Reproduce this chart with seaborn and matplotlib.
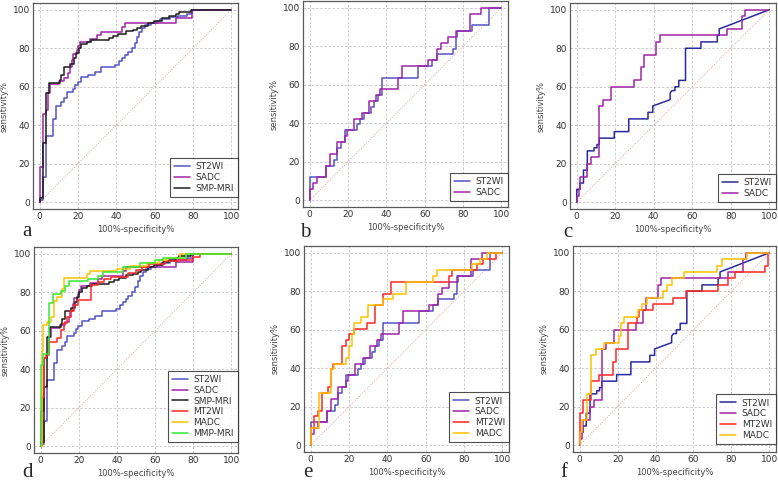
import matplotlib
matplotlib.use('Agg')
import matplotlib.pyplot as plt
from matplotlib.ticker import AutoMinorLocator
import seaborn as sns

# ROC points (100%-specificity%, sensitivity%)
ST2WI_1 = [(0, 0), (0, 1), (1.7, 1), (1.7, 13), (3.5, 13), (3.5, 34.5), (7, 34.5), (7, 43), (8.7, 43), (8.7, 50),
           (11.3, 50), (11.3, 52), (12.7, 52), (12.7, 54), (14, 54), (14, 57.5), (17.4, 57.5), (17.4, 59), (18.5, 59),
           (18.5, 61), (19.8, 61), (19.8, 62.5), (21.7, 62.5), (21.7, 65), (25.2, 65), (25.2, 66), (28.6, 66),
           (28.6, 67.5), (32, 67.5), (32, 70), (39.5, 70), (39.5, 71.5), (41.5, 71.5), (41.5, 73.5), (43, 73.5),
           (43, 75), (44.5, 75), (44.5, 76.5), (46, 76.5), (46, 78), (48, 78), (48, 80), (49.5, 80), (49.5, 82.5),
           (51, 82.5), (51, 86), (52, 86), (52, 88.5), (53.5, 88.5), (53.5, 90.5), (55, 90.5), (55, 92), (58, 92),
           (58, 93), (61, 93), (61, 94), (63, 94), (63, 95), (68, 95), (68, 96), (72, 96), (72, 97), (77, 97),
           (77, 98), (79.7, 98), (79.7, 100), (100, 100)]
SADC_1 = [(0, 0), (0, 18.5), (1.5, 18.5), (1.5, 46), (3.5, 46), (3.5, 48), (4.3, 48), (4.3, 56.5), (5.3, 56.5),
          (5.3, 61.5), (10, 61.5), (10, 63), (12.5, 63), (12.5, 64.5), (15, 64.5), (15, 67), (16, 67), (16, 70),
          (16.8, 70), (16.8, 74), (17.6, 74), (17.6, 77), (19.5, 77), (19.5, 79), (20.2, 79), (20.2, 81), (21, 81),
          (21, 83), (26, 83), (26, 85), (30, 85), (30, 87), (32, 87), (32, 88.5), (43, 88.5), (43, 91), (44.5, 91),
          (44.5, 93), (71, 93), (71, 95.6), (79.7, 95.6), (79.7, 100), (100, 100)]
SMP_1 = [(0, 0), (0, 2), (1.7, 2), (1.7, 31), (3.3, 31), (3.3, 56.5), (4.8, 56.5), (4.8, 61.7), (10.4, 61.7),
         (10.4, 63.5), (11.3, 63.5), (11.3, 66), (12.5, 66), (12.5, 70), (16, 70), (16, 72), (18, 72), (18, 75),
         (19, 75), (19, 77.5), (20.3, 77.5), (20.3, 80), (21.5, 80), (21.5, 82), (24.5, 82), (24.5, 83.5), (27, 83.5),
         (27, 84.5), (36, 84.5), (36, 85.5), (38.5, 85.5), (38.5, 86.5), (41, 86.5), (41, 87.5), (45, 87.5),
         (45, 88.7), (48.6, 88.7), (48.6, 89.7), (51, 89.7), (51, 90.7), (52.8, 90.7), (52.8, 91.8), (56.3, 91.8),
         (56.3, 92.9), (59.7, 92.9), (59.7, 94.2), (64, 94.2), (64, 95.5), (67.5, 95.5), (67.5, 96.9), (71, 96.9),
         (71, 97.8), (72.6, 97.8), (72.6, 98.6), (78.8, 98.6), (78.8, 100), (100, 100)]
MT2WI_1 = [(0, 0), (0.8, 0), (0.8, 25.5), (1.5, 25.5), (1.5, 46), (3, 46), (3, 47.5), (4.3, 47.5), (4.3, 54),
           (8.6, 54), (8.6, 56), (10.4, 56), (10.4, 60.5), (12, 60.5), (12, 64), (13.8, 64), (13.8, 67), (15.5, 67),
           (15.5, 70), (17.3, 70), (17.3, 73.5), (19.5, 73.5), (19.5, 76), (26.5, 76), (26.5, 84), (30, 84),
           (30, 85.5), (33, 85.5), (33, 87), (37, 87), (37, 88), (46, 88), (46, 90), (50, 90), (50, 91.5), (53, 91.5),
           (53, 93), (57, 93), (57, 94.5), (65, 94.5), (65, 96), (72, 96), (72, 97), (80, 97), (80, 98.5),
           (83.5, 98.5), (83.5, 100), (100, 100)]
MADC_1 = [(0, 0), (0.5, 0), (0.5, 49.5), (1.3, 49.5), (1.3, 63), (3.5, 63), (3.5, 64.5), (5.2, 64.5), (5.2, 67),
          (6.9, 67), (6.9, 75.5), (8.6, 75.5), (8.6, 77.5), (11.2, 77.5), (11.2, 81.5), (12.2, 81.5), (12.2, 87.5),
          (24.2, 87.5), (24.2, 89.5), (26, 89.5), (26, 91), (40, 91), (40, 92), (47, 92), (47, 93.5), (56, 93.5),
          (56, 95), (62, 95), (62, 96.5), (66, 96.5), (66, 98), (73, 98), (73, 100), (100, 100)]
MMP_1 = [(0, 0), (0, 42), (1.3, 42), (1.3, 48), (4.5, 48), (4.5, 74.5), (6.5, 74.5), (6.5, 79), (10.5, 79),
         (10.5, 80.5), (12.5, 80.5), (12.5, 83.5), (15, 83.5), (15, 86), (25, 86), (25, 87), (30, 87), (30, 88.5),
         (32.5, 88.5), (32.5, 90.5), (43, 90.5), (43, 93), (52, 93), (52, 95), (60, 95), (60, 96.5), (64, 96.5),
         (64, 98), (76, 98), (76, 100), (100, 100)]

ST2WI_2 = [(0, 0), (0, 12), (8.3, 12), (8.3, 18), (12.5, 18), (12.5, 21), (14.5, 21), (14.5, 27.3), (16.5, 27.3),
           (16.5, 30.3), (18.5, 30.3), (18.5, 36.4), (24.5, 36.4), (24.5, 39.4), (26.5, 39.4), (26.5, 42.4),
           (28.5, 42.4), (28.5, 45.5), (32, 45.5), (32, 48.5), (33.5, 48.5), (33.5, 51.5), (35.5, 51.5),
           (35.5, 54.5), (37.6, 54.5), (37.6, 63.6), (56.5, 63.6), (56.5, 69.7), (64, 69.7), (64, 72.7), (66.5, 72.7),
           (66.5, 75.8), (74.7, 75.8), (74.7, 78.8), (76.5, 78.8), (76.5, 87.9), (84.5, 87.9), (84.5, 90.9),
           (93.6, 90.9), (93.6, 100), (100, 100)]
SADC_2 = [(0, 0), (0, 6), (1.5, 6), (1.5, 9), (4, 9), (4, 12), (8.3, 12), (8.3, 18), (10.5, 18), (10.5, 24.2),
          (14.5, 24.2), (14.5, 30.3), (18.5, 30.3), (18.5, 33.3), (19.5, 33.3), (19.5, 36.4), (23, 36.4), (23, 42.4),
          (27.5, 42.4), (27.5, 45.5), (31, 45.5), (31, 51.5), (34.5, 51.5), (34.5, 54.5), (36.5, 54.5), (36.5, 57.6),
          (46, 57.6), (46, 63.6), (48, 63.6), (48, 69.7), (62, 69.7), (62, 72.7), (66.5, 72.7), (66.5, 78.8),
          (68.5, 78.8), (68.5, 81.8), (72, 81.8), (72, 84.8), (77, 84.8), (77, 87.9), (83.5, 87.9), (83.5, 97),
          (89.5, 97), (89.5, 100), (100, 100)]
MT2WI_2 = [(0, 0), (0, 9), (1.7, 9), (1.7, 15), (4, 15), (4, 18), (6, 18), (6, 27.3), (9, 27.3), (9, 30.3),
           (10.5, 30.3), (10.5, 39.4), (11.5, 39.4), (11.5, 42.4), (16.4, 42.4), (16.4, 51.5), (18.5, 51.5),
           (18.5, 54.5), (20.2, 54.5), (20.2, 57.6), (22.5, 57.6), (22.5, 60.6), (29.4, 60.6), (29.4, 63.6),
           (33.7, 63.6), (33.7, 72.7), (37.5, 72.7), (37.5, 78.8), (42, 78.8), (42, 84.8), (72, 84.8), (72, 87.9),
           (73.5, 87.9), (73.5, 90.9), (87, 90.9), (87, 93.9), (90, 93.9), (90, 97), (96.5, 97), (96.5, 100),
           (100, 100)]
MADC_2 = [(0, 0), (0, 9), (4.3, 9), (4.3, 27.3), (10.4, 27.3), (10.4, 39.4), (12, 39.4), (12, 42.4), (18.5, 42.4),
          (18.5, 45.5), (20, 45.5), (20, 51.5), (21.5, 51.5), (21.5, 57.6), (22.5, 57.6), (22.5, 63.6), (26, 63.6),
          (26, 66.7), (30, 66.7), (30, 72.7), (37.5, 72.7), (37.5, 75.8), (43, 75.8), (43, 78.8), (49.5, 78.8),
          (49.5, 84.8), (64, 84.8), (64, 87.9), (66, 87.9), (66, 90.9), (84, 90.9), (84, 93.9), (88.5, 93.9),
          (88.5, 97), (92, 97), (92, 100), (100, 100)]

ST2WI_3 = [(0, 0), (0, 6.7), (1.7, 6.7), (1.7, 10), (3.5, 10), (3.5, 16.7), (5.5, 16.7), (5.5, 26.7), (9, 26.7),
           (9, 28.3), (10.5, 28.3), (10.5, 30), (11.7, 30), (11.7, 33.3), (19.5, 33.3), (19.5, 36.7), (27, 36.7),
           (27, 43.3), (37, 43.3), (37, 46.7), (39.5, 46.7), (39.5, 50), (48.5, 53.3), (48.5, 56.7), (49.5, 58),
           (51, 58), (51, 60), (53, 60), (53, 63.3), (56.5, 63.3), (56.5, 80), (64.5, 80), (64.5, 83.3), (73, 83.3),
           (73, 86.7), (74, 86.7), (74, 90), (100, 100)]
SADC_3 = [(0, 0), (0, 3.3), (1, 3.3), (1, 6.7), (1.7, 6.7), (1.7, 13.3), (5.5, 13.3), (5.5, 20), (7.5, 20),
          (7.5, 23.3), (11.7, 23.3), (11.7, 50), (13.7, 50), (13.7, 53.3), (17.9, 53.3), (17.9, 60), (29.6, 60),
          (29.6, 63.3), (33.3, 63.3), (33.3, 70), (35, 70), (35, 76.7), (41.2, 76.7), (41.2, 83.3), (43, 83.3),
          (43, 86.7), (78, 86.7), (78, 90), (86, 90), (86, 96.7), (87.6, 96.7), (87.6, 100), (100, 100)]
MT2WI_3 = [(0, 0), (0, 16.7), (2, 16.7), (2, 23.3), (6, 23.3), (6, 33.3), (10, 33.3), (10, 36.7), (17.5, 36.7),
           (17.5, 43.3), (19, 43.3), (19, 50), (25.5, 50), (25.5, 63.3), (30, 63.3), (30, 66.7), (31.5, 66.7),
           (31.5, 70), (38.5, 70), (38.5, 73.3), (49, 73.3), (49, 76.7), (56, 76.7), (56, 80), (73, 80), (73, 83.3),
           (78, 83.3), (78, 86.7), (82, 86.7), (82, 90), (97.5, 90), (97.5, 93.3), (99.5, 93.3), (99.5, 100),
           (100, 100)]
MADC_3 = [(0, 0), (0, 6.7), (1.5, 6.7), (1.5, 13.3), (4, 13.3), (4, 26.7), (6, 26.7), (6, 46.7), (8.7, 46.7),
          (8.7, 50), (13, 50), (13, 53.3), (21, 53.3), (21, 56.7), (22, 56.7), (22, 63.3), (23.5, 63.3), (23.5, 66.7),
          (30.5, 66.7), (30.5, 70), (33, 70), (33, 73.3), (35.5, 73.3), (35.5, 76.7), (44, 76.7), (44, 80), (46, 80),
          (46, 83.3), (48.5, 83.3), (48.5, 86.7), (55, 86.7), (55, 90), (72.5, 90), (72.5, 93.3), (75, 93.3),
          (75, 96.7), (88, 96.7), (88, 100), (100, 100)]

chance = [0, 100]
ticks = [0, 20, 40, 60, 80, 100]
panel_letters = ['a', 'b', 'c', 'd', 'e', 'f']

blue = '#5454c4'
navy = '#2a2a9e'
purple = '#a024a8'
black = '#1e1e1e'
red = '#ff2626'
gold = '#ffc000'
green = '#33ea33'

panels = [
    [('ST2WI', ST2WI_1, blue), ('SADC', SADC_1, purple), ('SMP-MRI', SMP_1, black)],
    [('ST2WI', ST2WI_2, blue), ('SADC', SADC_2, purple)],
    [('ST2WI', ST2WI_3, navy), ('SADC', SADC_3, purple)],
    [('ST2WI', ST2WI_1, blue), ('SADC', SADC_1, purple), ('SMP-MRI', SMP_1, black),
     ('MT2WI', MT2WI_1, red), ('MADC', MADC_1, gold), ('MMP-MRI', MMP_1, green)],
    [('ST2WI', ST2WI_2, blue), ('SADC', SADC_2, purple), ('MT2WI', MT2WI_2, red), ('MADC', MADC_2, gold)],
    [('ST2WI', ST2WI_3, navy), ('SADC', SADC_3, purple), ('MT2WI', MT2WI_3, red), ('MADC', MADC_3, gold)],
]

sns.set_style('white')
plt.rcParams['font.family'] = ['DejaVu Sans']

W, H = 778, 482
fig = plt.figure(figsize=(W / 100, H / 100), dpi=100)

# axes frames in pixels: left, top, right, bottom
frames = [(33, 3, 238, 209), (303, 1, 508, 207), (570, 3, 776, 209),
          (34, 247, 238, 453), (304, 246, 509, 452), (573, 246, 776, 452)]
legend_gap = [12, 6, 7, 11, 10, 8]
letter_pos = [(22, 236), (300, 237), (563, 237), (22, 477), (303, 477), (560, 477)]

for i, curves in enumerate(panels):
    l, t, r, b = frames[i]
    ax = fig.add_axes([l / W, 1 - b / H, (r - l) / W, (b - t) / H])
    ax.set_xlim(-3.5, 103.5)
    ax.set_ylim(-3.5, 103.5)
    ax.set_xticks(ticks)
    ax.set_yticks(ticks)
    ax.xaxis.set_minor_locator(AutoMinorLocator(5))
    ax.yaxis.set_minor_locator(AutoMinorLocator(5))
    ax.tick_params(which='both', direction='in', colors='#666', labelcolor='#333', labelsize=6.5, pad=2)
    ax.tick_params(which='major', length=3, width=0.6)
    ax.tick_params(which='minor', length=1.5, width=0.5)
    ax.grid(True, which='major', linestyle=(0, (3, 2)), color='#c4c4c4', linewidth=0.6)
    for sp in ax.spines.values():
        sp.set_color('#5a5a5a')
        sp.set_linewidth(0.9)

    sns.lineplot(x=chance, y=chance, ax=ax, color='#e6a0a0', linewidth=0.7,
                 linestyle=(0, (1, 1.5)), sort=False, estimator=None)
    for name, pts, col in curves:
        xs, ys = zip(*pts)
        sns.lineplot(x=list(xs), y=list(ys), ax=ax, color=col, linewidth=1.1, label=name,
                     sort=False, estimator=None)

    ax.set_xlabel('100%-specificity%', fontsize=6, color='#444', labelpad=3)
    ax.set_ylabel('sensitivity%', fontsize=6, color='#444', labelpad=3)

    leg = ax.legend(loc='lower right', bbox_to_anchor=(1, legend_gap[i] / (b - t)), borderaxespad=0,
                    frameon=True, fancybox=False, edgecolor='#222', fontsize=6.5, handlelength=1.8,
                    handletextpad=0.6, labelspacing=0.2, borderpad=0.45)
    leg.get_frame().set_linewidth(0.8)
    for txt in leg.get_texts():
        txt.set_color('#333')

    lx, ly = letter_pos[i]
    fig.text(lx / W, 1 - ly / H, panel_letters[i], fontsize=15, family='Liberation Serif',
             ha='left', va='baseline')

fig.savefig('out.png', dpi=100)
